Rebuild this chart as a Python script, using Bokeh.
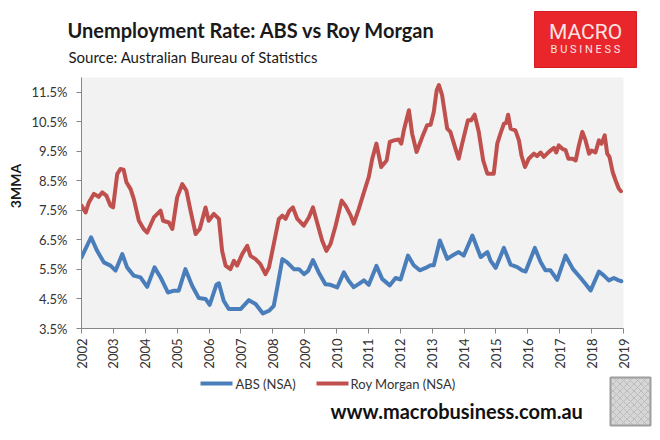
import math
from bokeh.plotting import figure
from bokeh.layouts import column, row
from bokeh.models import FixedTicker, PrintfTickFormatter, Range1d
from bokeh.core.properties import value
from bokeh.embed import file_html
from bokeh.resources import INLINE

# ---------------- data (3-month moving average, %) ----------------
abs_year = [2002.00, 2002.30, 2002.49, 2002.70, 2002.91, 2003.07, 2003.28, 2003.43, 2003.64, 2003.85,
            2004.06, 2004.29, 2004.48, 2004.71, 2004.90, 2005.05, 2005.26, 2005.47, 2005.68, 2005.89,
            2006.02, 2006.23, 2006.31, 2006.46, 2006.62, 2006.83, 2006.99, 2007.25, 2007.46, 2007.69,
            2007.88, 2008.03, 2008.14, 2008.30, 2008.45, 2008.66, 2008.82, 2008.98, 2009.11, 2009.26,
            2009.44, 2009.65, 2009.81, 2010.02, 2010.23, 2010.38, 2010.54, 2010.70, 2010.86, 2011.01,
            2011.25, 2011.43, 2011.67, 2011.85, 2012.01, 2012.24, 2012.42, 2012.61, 2012.79, 2012.95,
            2013.05, 2013.24, 2013.47, 2013.63, 2013.83, 2013.99, 2014.26, 2014.52, 2014.73, 2014.83,
            2014.99, 2015.25, 2015.46, 2015.67, 2015.82, 2015.93, 2016.22, 2016.40, 2016.55, 2016.71,
            2016.92, 2017.18, 2017.41, 2017.65, 2017.81, 2017.97, 2018.23, 2018.38, 2018.54, 2018.70,
            2018.85, 2018.94]
abs_rate = [5.91, 6.59, 6.13, 5.74, 5.63, 5.46, 6.02, 5.57, 5.29, 5.23,
            4.91, 5.57, 5.23, 4.72, 4.78, 4.78, 5.51, 4.95, 4.53, 4.50,
            4.30, 4.98, 5.03, 4.44, 4.16, 4.16, 4.16, 4.46, 4.33, 4.01,
            4.10, 4.27, 4.89, 5.85, 5.74, 5.51, 5.51, 5.34, 5.45, 5.82,
            5.40, 5.00, 4.98, 4.89, 5.40, 5.12, 4.90, 5.01, 5.13, 4.98,
            5.62, 5.18, 4.96, 5.21, 5.16, 5.97, 5.64, 5.47, 5.55, 5.64,
            5.64, 6.48, 5.86, 5.97, 6.09, 5.97, 6.65, 5.92, 6.09, 5.80,
            5.55, 6.23, 5.66, 5.58, 5.47, 5.43, 6.23, 5.75, 5.47, 5.47,
            5.15, 5.97, 5.52, 5.22, 5.01, 4.79, 5.43, 5.30, 5.13, 5.21,
            5.13, 5.10]

rm_year = [2002.00, 2002.13, 2002.23, 2002.39, 2002.54, 2002.65, 2002.78, 2002.91, 2002.99, 2003.12,
           2003.22, 2003.32, 2003.41, 2003.54, 2003.64, 2003.80, 2003.95, 2004.06, 2004.27, 2004.48,
           2004.56, 2004.74, 2004.85, 2005.00, 2005.16, 2005.29, 2005.42, 2005.58, 2005.71, 2005.89,
           2005.99, 2006.15, 2006.31, 2006.41, 2006.52, 2006.67, 2006.78, 2006.88, 2007.04, 2007.20,
           2007.30, 2007.46, 2007.61, 2007.77, 2007.88, 2008.03, 2008.19, 2008.30, 2008.40, 2008.52,
           2008.63, 2008.77, 2008.97, 2009.13, 2009.26, 2009.39, 2009.55, 2009.68, 2009.81, 2009.97,
           2010.16, 2010.28, 2010.44, 2010.54, 2010.70, 2010.86, 2011.01, 2011.12, 2011.25, 2011.40,
           2011.57, 2011.67, 2011.80, 2011.95, 2012.03, 2012.11, 2012.27, 2012.37, 2012.51, 2012.69,
           2012.84, 2012.95, 2013.05, 2013.14, 2013.21, 2013.31, 2013.47, 2013.57, 2013.73, 2013.83,
           2013.94, 2014.12, 2014.22, 2014.33, 2014.46, 2014.60, 2014.73, 2014.93, 2015.04, 2015.14,
           2015.25, 2015.32, 2015.38, 2015.46, 2015.61, 2015.72, 2015.80, 2015.91, 2016.03, 2016.19,
           2016.29, 2016.40, 2016.50, 2016.66, 2016.82, 2016.89, 2016.97, 2017.10, 2017.18, 2017.27,
           2017.40, 2017.50, 2017.60, 2017.71, 2017.81, 2017.92, 2018.00, 2018.12, 2018.23, 2018.31,
           2018.41, 2018.49, 2018.56, 2018.66, 2018.75, 2018.85, 2018.92]
rm_rate = [7.66, 7.43, 7.77, 8.06, 7.96, 8.11, 8.00, 7.66, 7.60, 8.73,
           8.90, 8.88, 8.45, 8.22, 7.89, 7.15, 6.87, 6.75, 7.26, 7.49,
           7.15, 7.09, 6.87, 7.94, 8.39, 8.17, 7.49, 6.70, 6.87, 7.60,
           7.15, 7.38, 7.21, 6.13, 5.63, 5.51, 5.79, 5.63, 6.02, 6.30,
           5.96, 5.85, 5.68, 5.34, 5.57, 6.36, 7.21, 7.32, 7.21, 7.49,
           7.60, 7.21, 6.98, 7.26, 7.60, 7.09, 6.47, 6.13, 6.36, 6.98,
           7.83, 7.66, 7.33, 7.05, 7.56, 8.12, 8.63, 9.25, 9.76, 8.97,
           9.19, 9.82, 9.87, 9.90, 9.76, 10.21, 10.89, 10.10, 9.48, 9.99,
           10.38, 10.40, 10.84, 11.57, 11.74, 11.40, 10.27, 10.16, 9.59, 9.25,
           9.76, 10.55, 10.55, 10.74, 10.16, 9.19, 8.74, 8.74, 9.76, 10.10,
           10.44, 10.46, 10.74, 10.27, 10.21, 9.87, 9.36, 8.97, 9.25, 9.42,
           9.34, 9.46, 9.31, 9.48, 9.62, 9.46, 9.70, 9.57, 9.55, 9.25,
           9.25, 9.19, 9.70, 10.16, 9.87, 9.42, 9.53, 9.46, 9.87, 9.76,
           10.04, 9.42, 9.31, 8.80, 8.52, 8.24, 8.15]

year_ticks = list(range(2002, 2020))
rate_ticks = [3.5, 4.5, 5.5, 6.5, 7.5, 8.5, 9.5, 10.5, 11.5]

title_text = "Unemployment Rate: ABS vs Roy Morgan"
subtitle_text = "Source: Australian Bureau of Statistics"
y_label_text = "3MMA"
series_names = ["ABS (NSA)", "Roy Morgan (NSA)"]
url_text = "www.macrobusiness.com.au"

BLUE = "#4A7EBB"
RED = "#C0504D"
AXIS = "#868686"
FONT = "Lato"
W = 660


def blank(height, y_top, y_bottom):
    """Decoration strip whose data space is page pixels (y grows downward)."""
    f = figure(width=W, height=height, output_backend="svg", toolbar_location=None,
               x_range=Range1d(0, W), y_range=Range1d(y_bottom, y_top),
               x_axis_location=None, y_axis_location=None, title=None,
               min_border=0, min_border_left=0, min_border_right=0,
               min_border_top=0, min_border_bottom=0)
    f.outline_line_color = None
    f.grid.visible = False
    f.background_fill_color = "white"
    f.border_fill_color = "white"
    return f


# ---------------- header strip ----------------
top = blank(77, 0, 77)
top.text(x=[67], y=[29], text=[title_text], text_font=value(FONT), text_font_style="bold",
         text_font_size="20px", text_baseline="alphabetic", text_color="#1a1a1a")
top.text(x=[68], y=[56.5], text=[subtitle_text], text_font=value(FONT),
         text_font_size="15px", text_baseline="alphabetic", text_color="#1a1a1a")
top.quad(left=[534], right=[636], top=[11], bottom=[67], fill_color="#E8262B",
         line_color="#D01E22", line_width=1)
top.text(x=[585], y=[31.5], text=["MACRO"], text_font=value("Roboto"), text_font_size="21px",
         text_align="center", text_baseline="alphabetic", text_color="#FBE3E3")
top.text(x=[585], y=[49], text=["B U S I N E S S"], text_font=value("Roboto"), text_font_size="11px",
         text_align="center", text_baseline="alphabetic", text_color="#FBE3E3")

# ---------------- chart ----------------
p = figure(width=W, height=296, output_backend="svg", toolbar_location=None, title=None,
           x_range=Range1d(2002, 2019), y_range=Range1d(3.5, 12.0),
           min_border_left=81, min_border_right=37, min_border_top=0, min_border_bottom=45)
p.background_fill_color = "#F2F2F2"
p.border_fill_color = "white"
p.outline_line_color = None
p.grid.visible = False

xa = p.xaxis[0]
xa.ticker = FixedTicker(ticks=year_ticks)
xa.major_label_orientation = math.pi / 2
xa.minor_tick_line_color = None
xa.major_tick_in = 0
xa.major_tick_out = 5
xa.major_label_standoff = 5
xa.axis_line_color = AXIS
xa.major_tick_line_color = AXIS
xa.major_label_text_font = FONT
xa.major_label_text_font_size = "13px"
xa.major_label_text_color = "#333333"

ya = p.yaxis[0]
ya.ticker = FixedTicker(ticks=rate_ticks)
ya.formatter = PrintfTickFormatter(format="%.1f%%")
ya.minor_tick_line_color = None
ya.major_tick_in = 0
ya.major_tick_out = 5
ya.major_label_standoff = 9
ya.axis_line_color = AXIS
ya.major_tick_line_color = AXIS
ya.major_label_text_font = FONT
ya.major_label_text_font_size = "13px"
ya.major_label_text_color = "#333333"
ya.axis_label = "\u00a0" * 10 + y_label_text
ya.axis_label_text_font = FONT
ya.axis_label_text_font_style = "bold"
ya.axis_label_text_font_size = "14px"
ya.axis_label_text_color = "#1a1a1a"
ya.axis_label_standoff = 4

p.line(abs_year, abs_rate, line_width=4, line_color=BLUE, line_join="round", line_cap="round")
p.line(rm_year, rm_rate, line_width=4, line_color=RED, line_join="round", line_cap="round")

# ---------------- footer strip (legend, url, badge) ----------------
bot = blank(67, 373, 440)
bot.segment(x0=[200, 316], y0=[383, 383], x1=[232, 348], y1=[383, 383],
            line_color=[BLUE, RED], line_width=4)
bot.text(x=[235, 350], y=[383, 383], text=series_names, text_font=value(FONT),
         text_font_size="13px", text_baseline="middle", text_color="#333333")
bot.text(x=[330], y=[410], text=[url_text], text_font=value(FONT), text_font_style="bold",
         text_font_size="20px", text_baseline="middle", text_color="#111111")
bot.quad(left=[610], right=[650], top=[377], bottom=[425], fill_color="#D6D6D6",
         line_color="#9E9E9E", line_width=2, hatch_pattern="x", hatch_color="#A8A8A8",
         hatch_scale=7, hatch_alpha=0.6)

layout = column(row(top), p, row(bot), spacing=0)
open("out.html", "w").write(file_html(layout, INLINE))
